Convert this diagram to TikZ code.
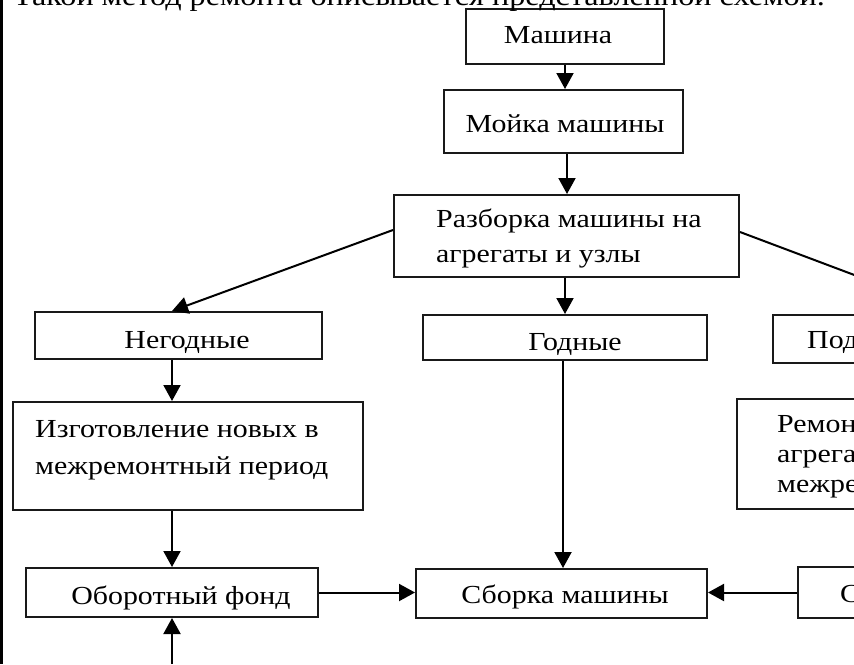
\documentclass[tikz,border=0pt]{standalone}
\usepackage{fontspec}
\setmainfont{Liberation Serif}[FakeStretch=1.15]
\usetikzlibrary{arrows.meta}
\begin{document}
\begin{tikzpicture}[x=1pt,y=-1pt,
  box/.style={draw=black!90, line width=2pt, rectangle, inner sep=0pt},
  txt/.style={inner sep=0pt, font=\fontsize{26}{30}\selectfont, text=black},
  arr/.style={line width=2pt, draw=black, -{Triangle[length=16pt,width=17pt]}},
  ln/.style={line width=3pt, draw=black}]
\useasboundingbox (0,0) rectangle (854,664);
\clip (0,0) rectangle (854,664);
% boxes
\node[box, minimum width=198pt, minimum height=55pt] (mash) at (565,36.5) {};
\node[box, minimum width=239pt, minimum height=63pt] (moika) at (563.5,121.5) {};
\node[box, minimum width=345pt, minimum height=82pt] (razb) at (566.5,236) {};
\node[box, minimum width=287pt, minimum height=47pt] (neg) at (178.5,335.5) {};
\node[box, minimum width=284pt, minimum height=45pt] (god) at (565,337.5) {};
\node[box, minimum width=370pt, minimum height=48pt] (pod) at (958,339) {};
\node[box, minimum width=350pt, minimum height=108pt] (izg) at (188,456) {};
\node[box, minimum width=350pt, minimum height=110pt] (rem) at (912,454) {};
\node[box, minimum width=292pt, minimum height=49pt] (obor) at (172,592.5) {};
\node[box, minimum width=291pt, minimum height=49pt] (sbor) at (561.5,593.5) {};
\node[box, minimum width=300pt, minimum height=51pt] (sbag) at (948,592.5) {};
% texts
\node[txt, anchor=base west, font=\fontsize{28}{30}\selectfont] (title) at (13,5) {Такой метод ремонта описывается представленной схемой.};
\node[txt, anchor=base] (mash-t) at (558,43) {Машина};
\node[txt, anchor=base] (moika-t) at (565,132) {Мойка машины};
\node[txt, anchor=base west] (razb-t1) at (436,227) {Разборка машины на};
\node[txt, anchor=base west] (razb-t2) at (436,262) {агрегаты и узлы};
\node[txt, anchor=base] (neg-t) at (187,348) {Негодные};
\node[txt, anchor=base] (god-t) at (575,350) {Годные};
\node[txt, anchor=base west] (pod-t) at (807,348) {Под};
\node[txt, anchor=base west] (izg-t1) at (35,437) {Изготовление новых в};
\node[txt, anchor=base west] (izg-t2) at (35,474) {межремонтный период};
\node[txt, anchor=base west] (rem-t1) at (777,432) {Ремон};
\node[txt, anchor=base west] (rem-t2) at (777,462) {агрега};
\node[txt, anchor=base west] (rem-t3) at (777,492) {межре};
\node[txt, anchor=base] (obor-t) at (181,604) {Оборотный фонд};
\node[txt, anchor=base] (sbor-t) at (565,603) {Сборка машины};
\node[txt, anchor=base west] (sbag-t) at (840,602) {С};
% frame line
\coordinate (ftop) at (1.5,0);
\coordinate (fbot) at (1.5,664);
\draw[ln] (ftop) -- (fbot);
\coordinate (bot) at (172,664);
% connectors
\draw[arr] (mash.south) -- (mash.south |- moika.north);
\draw[arr] ([xshift=3.5pt]moika.south) -- ([xshift=3.5pt]moika.south |- razb.north);
\draw[arr] (god.north |- razb.south) -- (god.north);
\draw[arr] ([yshift=6pt]razb.west) -- ([xshift=-6.5pt]neg.north);
\draw[arr] ([yshift=4pt]razb.east) -- (pod.north);
\draw[arr] ([xshift=-6.5pt]neg.south) -- ([xshift=-6.5pt]neg.south |- izg.north);
\draw[arr] (obor.north |- izg.south) -- (obor.north);
\draw[arr] (bot) -- (obor.south);
\draw[arr] (obor.east) -- (obor.east -| sbor.west);
\draw[arr] ([xshift=-2pt]god.south) -- ([xshift=-2pt]god.south |- sbor.north);
\draw[arr] (sbag.west) -- (sbag.west -| sbor.east);
\end{tikzpicture}
\end{document}
